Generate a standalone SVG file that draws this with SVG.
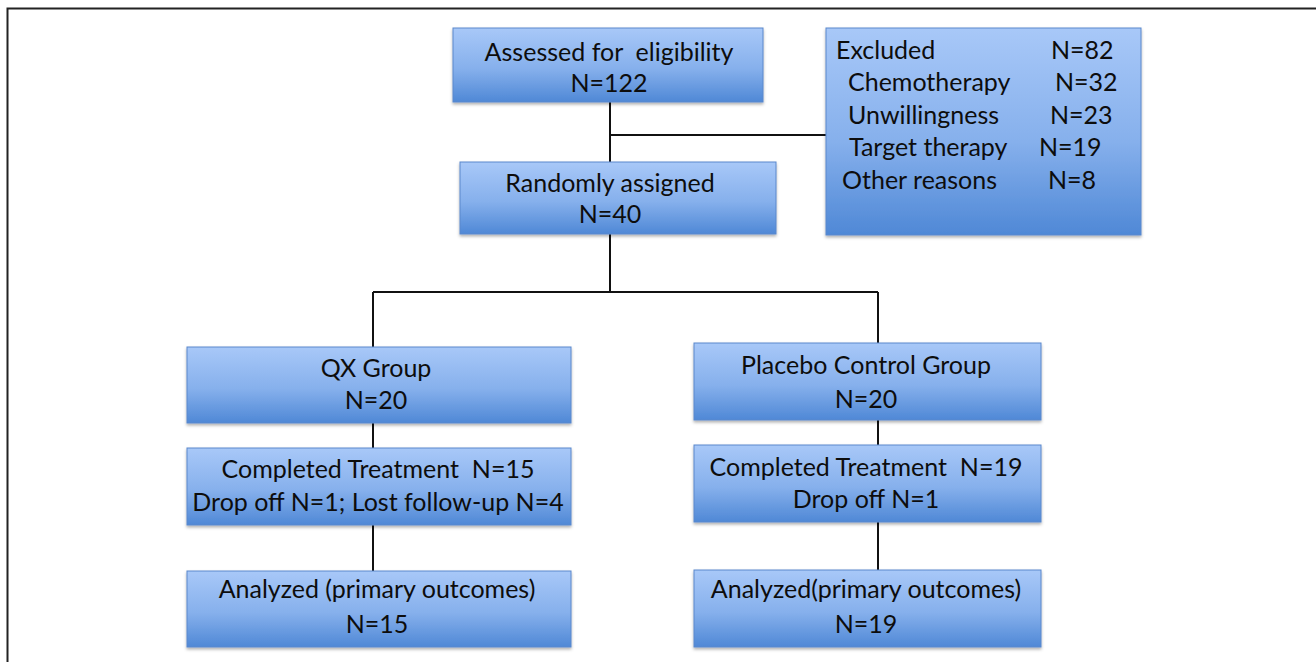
<svg xmlns="http://www.w3.org/2000/svg" width="1316" height="662" viewBox="0 0 1316 662">
<style>
.box{fill:url(#g);stroke:#5a88cc;stroke-width:1;filter:url(#sh)}
.t{font-family:Lato,"Open Sans",sans-serif;font-size:25px;fill:#0d0d0d;white-space:pre}
.c{text-anchor:middle}
.ln{stroke:#111;stroke-width:2;fill:none}
</style>
<defs>
<linearGradient id="g" x1="0" y1="0" x2="0" y2="1">
<stop offset="0" stop-color="#a8c8f8"/>
<stop offset="0.55" stop-color="#86b0ec"/>
<stop offset="1" stop-color="#4f88d6"/>
</linearGradient>
<filter id="sh" x="-5%" y="-5%" width="110%" height="120%">
<feDropShadow dx="0" dy="2" stdDeviation="1.5" flood-color="#000" flood-opacity="0.3"/>
</filter>
</defs>
<rect width="1316" height="662" fill="#fff"/>
<path d="M7.5 662 V8.5 H1316" stroke="#222" stroke-width="2" fill="none"/>
<g id="connectors" class="ln">
<path d="M610 102 V162 M610 135 H826"/>
<path d="M610 234 V292 M373 292 H878 M373 292 V347 M878 292 V343"/>
<path d="M373 423 V448 M373 525 V571"/>
<path d="M878 420 V445 M878 522 V570"/>
</g>
<g id="assessed"><rect class="box" x="453" y="28" width="310" height="74"/>
<text class="t c" x="609" y="61">Assessed for  eligibility</text>
<text class="t c" x="609" y="92">N=122</text></g>
<g id="excluded"><rect class="box" x="826" y="28" width="315" height="207"/>
<text class="t" x="836" y="59">Excluded</text><text class="t" x="1051" y="59">N=82</text>
<text class="t" x="848" y="91">Chemotherapy</text><text class="t" x="1055" y="91">N=32</text>
<text class="t" x="848" y="124">Unwillingness</text><text class="t" x="1050" y="124">N=23</text>
<text class="t" x="849" y="156">Target therapy</text><text class="t" x="1039" y="156">N=19</text>
<text class="t" x="842" y="189">Other reasons</text><text class="t" x="1048" y="189">N=8</text></g>
<g id="randomized"><rect class="box" x="460" y="162" width="316" height="72"/>
<text class="t c" x="610" y="192">Randomly assigned</text>
<text class="t c" x="610" y="223">N=40</text></g>
<g id="qx"><rect class="box" x="187" y="347" width="384" height="76"/>
<text class="t c" x="376" y="377">QX Group</text>
<text class="t c" x="376" y="409">N=20</text></g>
<g id="qx-completed"><rect class="box" x="187" y="448" width="384" height="77"/>
<text class="t c" x="378" y="478">Completed Treatment  N=15</text>
<text class="t c" x="378" y="511">Drop off N=1; Lost follow-up N=4</text></g>
<g id="qx-analyzed"><rect class="box" x="187" y="571" width="384" height="76"/>
<text class="t c" x="377" y="598">Analyzed (primary outcomes)</text>
<text class="t c" x="377" y="633">N=15</text></g>
<g id="placebo"><rect class="box" x="694" y="343" width="347" height="77"/>
<text class="t c" x="866" y="374">Placebo Control Group</text>
<text class="t c" x="866" y="408">N=20</text></g>
<g id="placebo-completed"><rect class="box" x="694" y="445" width="347" height="77"/>
<text class="t c" x="866" y="476">Completed Treatment  N=19</text>
<text class="t c" x="866" y="508">Drop off N=1</text></g>
<g id="placebo-analyzed"><rect class="box" x="694" y="570" width="347" height="77"/>
<text class="t c" x="866" y="598">Analyzed(primary outcomes)</text>
<text class="t c" x="866" y="633">N=19</text></g>
</svg>
